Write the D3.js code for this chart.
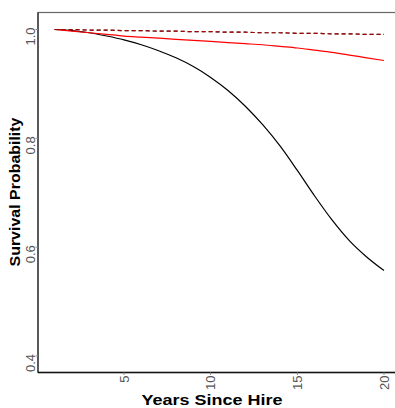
<!DOCTYPE html>
<html>
<head>
<meta charset="utf-8">
<script src="https://cdn.jsdelivr.net/npm/d3@7"></script>
<style>
  body { margin: 0; background: #fff; }
  svg { display: block; font-family: "Liberation Sans", Arial, sans-serif; }
</style>
</head>
<body>
<div id="chart"></div>
<script>
const years = d3.range(1, 21);
const blackSolid = [1.0, 0.998, 0.994, 0.988, 0.981, 0.972, 0.961, 0.948, 0.932, 0.912,
  0.888, 0.859, 0.825, 0.786, 0.741, 0.694, 0.65, 0.612, 0.582, 0.557];
const redSolid = [1.0, 0.997, 0.994, 0.991, 0.988, 0.986, 0.984, 0.982, 0.98, 0.978,
  0.976, 0.974, 0.972, 0.969, 0.966, 0.962, 0.958, 0.953, 0.948, 0.943];
const blackDashed = [1.0, 1.0, 0.999, 0.999, 0.998, 0.998, 0.997, 0.997, 0.996, 0.996,
  0.995, 0.995, 0.994, 0.994, 0.993, 0.993, 0.992, 0.992, 0.991, 0.991];
const redDashed = blackDashed.slice();
const xTicks = [5, 10, 15, 20];
const yTicks = [0.4, 0.6, 0.8, 1.0];

const width = 395, height = 408;
const frame = { left: 38, right: 400, top: 12.5, bottom: 372.5 };

const svg = d3.select('#chart').append('svg')
  .attr('width', width)
  .attr('height', height);

const x = d3.scaleLinear().domain([5, 20]).range([124, 384]);
const y = d3.scaleLinear().domain([0.4, 1.0]).range([356, 29.5]);

// panel border
svg.append('rect')
  .attr('x', frame.left).attr('y', frame.top)
  .attr('width', frame.right - frame.left)
  .attr('height', frame.bottom - frame.top)
  .attr('fill', 'none')
  .attr('stroke', '#666')
  .attr('stroke-width', 1.2);

// axis lines
svg.append('line')
  .attr('x1', frame.left).attr('x2', frame.left)
  .attr('y1', frame.top).attr('y2', frame.bottom)
  .attr('stroke', '#333').attr('stroke-width', 1.3);
svg.append('line')
  .attr('x1', frame.left).attr('x2', width)
  .attr('y1', frame.bottom).attr('y2', frame.bottom)
  .attr('stroke', '#111').attr('stroke-width', 1.6);

// x ticks
const xt = svg.append('g');
xt.selectAll('line').data(xTicks).enter().append('line')
  .attr('x1', d => x(d)).attr('x2', d => x(d))
  .attr('y1', frame.bottom).attr('y2', frame.bottom + 2.5)
  .attr('stroke', '#888');
xt.selectAll('text').data(xTicks).enter().append('text')
  .attr('transform', d => `translate(${x(d) + 4.5},${frame.bottom + 3}) rotate(-90)`)
  .attr('text-anchor', 'end')
  .attr('fill', '#555')
  .style('font-size', '13px')
  .text(d => d);

// y ticks
const yt = svg.append('g');
yt.selectAll('line').data(yTicks).enter().append('line')
  .attr('x1', frame.left - 2.5).attr('x2', frame.left)
  .attr('y1', d => y(d)).attr('y2', d => y(d))
  .attr('stroke', '#888');
yt.selectAll('text').data(yTicks).enter().append('text')
  .attr('transform', d => `translate(${frame.left - 3},${y(d) - 2}) rotate(-90)`)
  .attr('text-anchor', 'end')
  .attr('fill', '#555')
  .style('font-size', '13px')
  .text(d => d.toFixed(1));

// axis titles (the reference is slightly stretched, so fix their lengths)
svg.append('text')
  .attr('x', 212).attr('y', 405)
  .attr('text-anchor', 'middle')
  .attr('textLength', 141)
  .attr('lengthAdjust', 'spacingAndGlyphs')
  .style('font-size', '15.5px').style('font-weight', 'bold')
  .text('Years Since Hire');
svg.append('text')
  .attr('transform', `translate(19.5,192) rotate(-90)`)
  .attr('text-anchor', 'middle')
  .attr('textLength', 149)
  .attr('lengthAdjust', 'spacingAndGlyphs')
  .style('font-size', '15.5px').style('font-weight', 'bold')
  .text('Survival Probability');

const line = d3.line().x((d, i) => x(years[i])).y(d => y(d)).curve(d3.curveMonotoneX);

const series = [
  { values: blackSolid, color: '#000', dash: null, opacity: 1 },
  { values: redSolid, color: '#f00', dash: null, opacity: 1 },
  { values: blackDashed, color: '#000', dash: '4,3', opacity: 1 },
  { values: redDashed, color: '#e00', dash: '4,3', opacity: 0.7 }
];

svg.selectAll('path.series').data(series).enter().append('path')
  .attr('class', 'series')
  .attr('d', d => line(d.values))
  .attr('fill', 'none')
  .attr('stroke', d => d.color)
  .attr('stroke-opacity', d => d.opacity)
  .attr('stroke-width', 1.2)
  .attr('stroke-dasharray', d => d.dash);
</script>
</body>
</html>
